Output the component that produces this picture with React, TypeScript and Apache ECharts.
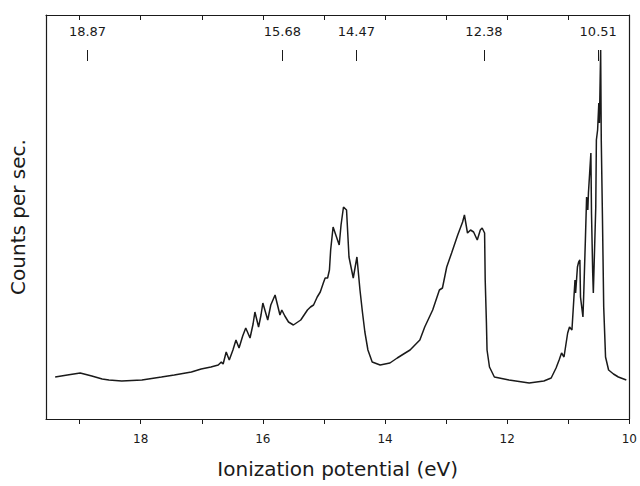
import React, { useEffect, useRef } from "react";
import * as echarts from "echarts";

// Ionization potential (eV) of each traced point
const energies = [
  19.4, 19.2, 18.99, 18.8, 18.63, 18.52, 18.31, 17.98, 17.66, 17.45, 17.17, 17.01,
  16.85, 16.73, 16.68, 16.65, 16.6, 16.55, 16.49, 16.44, 16.39, 16.33, 16.28, 16.21,
  16.16, 16.13, 16.07, 16.03, 16.0, 15.92, 15.87, 15.8, 15.76, 15.72, 15.69, 15.64,
  15.58, 15.5, 15.38, 15.27, 15.22, 15.17, 15.11, 15.06, 15.01, 14.98, 14.94, 14.91,
  14.89, 14.85, 14.8, 14.75, 14.72, 14.68, 14.63, 14.59, 14.52, 14.46, 14.41, 14.37,
  14.33, 14.28, 14.21, 14.08, 13.92, 13.8, 13.67, 13.59, 13.43, 13.35, 13.22, 13.11,
  13.06, 12.99, 12.91, 12.81, 12.73, 12.7, 12.65, 12.6, 12.55, 12.49, 12.44, 12.41,
  12.37, 12.36, 12.34, 12.33, 12.29, 12.21, 11.97, 11.64, 11.4, 11.28, 11.2, 11.15,
  11.11, 11.07, 11.04, 11.01, 10.98, 10.94, 10.91, 10.89, 10.88, 10.85, 10.83, 10.81,
  10.8, 10.76, 10.75, 10.72, 10.7, 10.68, 10.67, 10.65, 10.63, 10.62, 10.6, 10.59,
  10.57, 10.55, 10.54, 10.52, 10.5, 10.49, 10.47, 10.46, 10.44, 10.42, 10.39, 10.34,
  10.26, 10.18, 10.05,
];

// Counts (arbitrary units) at each energy
const counts = [
  42, 44, 46, 43, 40, 39, 38, 39, 42, 44, 47, 50,
  52, 54, 57, 55, 67, 59, 69, 79, 71, 83, 91, 81,
  95, 107, 92, 104, 116, 99, 114, 124, 114, 104, 109, 103,
  97, 94, 99, 109, 112, 114, 122, 127, 136, 141, 141, 149,
  169, 192, 183, 174, 194, 212, 209, 162, 141, 162, 129, 107,
  87, 69, 57, 54, 56, 61, 66, 69, 79, 92, 109, 129,
  131, 152, 166, 184, 197, 204, 186, 189, 187, 179, 189, 191,
  186, 139, 96, 69, 52, 42, 39, 36, 38, 41, 51, 59,
  66, 62, 74, 86, 92, 89, 119, 139, 126, 152, 157, 159,
  122, 102, 119, 179, 222, 209, 226, 246, 266, 206, 146, 126,
  169, 212, 279, 289, 316, 296, 369, 279, 199, 112, 62, 49,
  45, 42, 39,
];

// Marked ionization potentials along the top
const annotationEnergies = [18.87, 15.68, 14.47, 12.38, 10.51];
const annotationLabels = ["18.87", "15.68", "14.47", "12.38", "10.51"];

const FONT = "DejaVu Sans";
const INK = "#1a1a1a";

const isWhole = (v: number) => Math.abs(v - Math.round(v)) < 1e-6;

export default function App() {
  const ref = useRef<HTMLDivElement>(null);

  useEffect(() => {
    document.body.style.margin = "0";
    if (!ref.current) return;
    const chart = echarts.init(ref.current, null, { renderer: "svg" });
    const axisBase = {
      type: "value" as const,
      inverse: true,
      min: 10,
      max: 19.55,
      minInterval: 1,
      maxInterval: 1,
      splitNumber: 10,
      splitLine: { show: false },
      axisLine: { show: true, onZero: false, lineStyle: { color: INK, width: 1.2 } },
    };
    chart.setOption({
      animation: false,
      backgroundColor: "#ffffff",
      grid: { left: 44, right: 8, top: 15, bottom: 67 },
      xAxis: [
        {
          ...axisBase,
          position: "bottom",
          name: "Ionization potential (eV)",
          nameLocation: "middle",
          nameGap: 40,
          nameTextStyle: { fontFamily: FONT, fontSize: 20, color: INK },
          axisTick: { show: true, inside: false, length: 5, lineStyle: { color: INK } },
          axisLabel: {
            show: true,
            showMaxLabel: false,
            margin: 14,
            fontFamily: FONT,
            fontSize: 12,
            color: INK,
            formatter: (v: number) =>
              isWhole(v) && Math.round(v) % 2 === 0 ? String(Math.round(v)) : "",
          },
        },
        {
          ...axisBase,
          position: "top",
          axisTick: { show: true, inside: true, length: 5, lineStyle: { color: INK } },
          axisLabel: { show: false },
        },
      ],
      yAxis: [
        {
          type: "value",
          min: 0,
          max: 404,
          position: "left",
          name: "Counts per sec.",
          nameLocation: "middle",
          nameGap: 18,
          nameRotate: 90,
          nameTextStyle: { fontFamily: FONT, fontSize: 20, color: INK },
          axisLine: { show: true, lineStyle: { color: INK, width: 1.2 } },
          axisTick: { show: false },
          axisLabel: { show: false },
          splitLine: { show: false },
        },
        {
          type: "value",
          min: 0,
          max: 404,
          position: "right",
          axisLine: { show: true, lineStyle: { color: INK, width: 1.2 } },
          axisTick: { show: false },
          axisLabel: { show: false },
          splitLine: { show: false },
        },
      ],
      series: [
        {
          type: "line",
          xAxisIndex: 0,
          yAxisIndex: 0,
          data: energies.map((e, i) => [e, counts[i]]),
          showSymbol: false,
          symbol: "none",
          lineStyle: { color: INK, width: 1.5 },
          markLine: {
            silent: true,
            symbol: ["none", "none"],
            lineStyle: { color: INK, width: 1, type: "solid" },
            data: annotationEnergies.map((e, i) => [
              {
                coord: [e, 369],
                label: {
                  show: true,
                  position: "start",
                  distance: 12,
                  formatter: annotationLabels[i],
                  fontFamily: FONT,
                  fontSize: 13,
                  color: INK,
                },
              },
              { coord: [e, 358] },
            ]),
          },
        },
      ],
    });
    return () => chart.dispose();
  }, []);

  return <div ref={ref} style={{ width: 640, height: 486 }} />;
}
